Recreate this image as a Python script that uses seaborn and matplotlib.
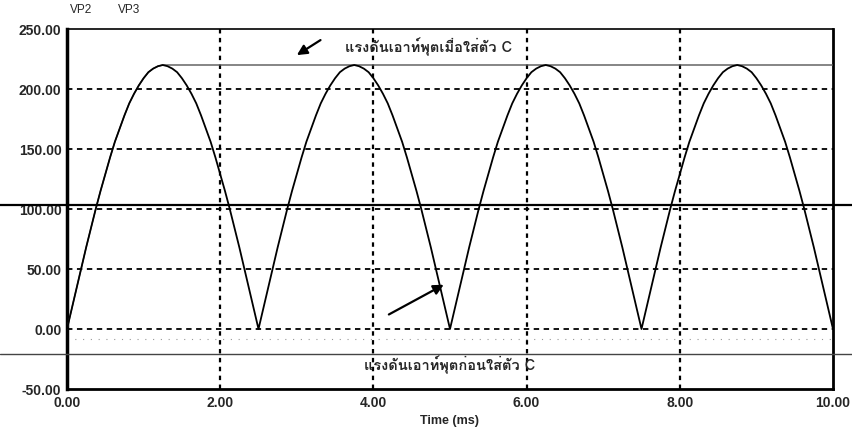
import matplotlib
matplotlib.use("Agg")
import matplotlib.pyplot as plt
from matplotlib import font_manager
from matplotlib.ft2font import FT2Font
import seaborn as sns
import pandas as pd

# ---------------- data ----------------
time_ms = [
    0.0000, 0.0625, 0.1250, 0.1875, 0.2500, 0.3125, 0.3750, 0.4375,
    0.5000, 0.5625, 0.6250, 0.6875, 0.7500, 0.8125, 0.8750, 0.9375,
    1.0000, 1.0625, 1.1250, 1.1875, 1.2500, 1.3125, 1.3750, 1.4375,
    1.5000, 1.5625, 1.6250, 1.6875, 1.7500, 1.8125, 1.8750, 1.9375,
    2.0000, 2.0625, 2.1250, 2.1875, 2.2500, 2.3125, 2.3750, 2.4375,
    2.5000, 2.5625, 2.6250, 2.6875, 2.7500, 2.8125, 2.8750, 2.9375,
    3.0000, 3.0625, 3.1250, 3.1875, 3.2500, 3.3125, 3.3750, 3.4375,
    3.5000, 3.5625, 3.6250, 3.6875, 3.7500, 3.8125, 3.8750, 3.9375,
    4.0000, 4.0625, 4.1250, 4.1875, 4.2500, 4.3125, 4.3750, 4.4375,
    4.5000, 4.5625, 4.6250, 4.6875, 4.7500, 4.8125, 4.8750, 4.9375,
    5.0000, 5.0625, 5.1250, 5.1875, 5.2500, 5.3125, 5.3750, 5.4375,
    5.5000, 5.5625, 5.6250, 5.6875, 5.7500, 5.8125, 5.8750, 5.9375,
    6.0000, 6.0625, 6.1250, 6.1875, 6.2500, 6.3125, 6.3750, 6.4375,
    6.5000, 6.5625, 6.6250, 6.6875, 6.7500, 6.8125, 6.8750, 6.9375,
    7.0000, 7.0625, 7.1250, 7.1875, 7.2500, 7.3125, 7.3750, 7.4375,
    7.5000, 7.5625, 7.6250, 7.6875, 7.7500, 7.8125, 7.8750, 7.9375,
    8.0000, 8.0625, 8.1250, 8.1875, 8.2500, 8.3125, 8.3750, 8.4375,
    8.5000, 8.5625, 8.6250, 8.6875, 8.7500, 8.8125, 8.8750, 8.9375,
    9.0000, 9.0625, 9.1250, 9.1875, 9.2500, 9.3125, 9.3750, 9.4375,
    9.5000, 9.5625, 9.6250, 9.6875, 9.7500, 9.8125, 9.8750, 9.9375,
    10.0000]
vp2 = [
    0, 17, 34, 51, 68, 84, 100, 115,
    129, 143, 156, 167, 178, 188, 196, 203,
    209, 214, 217, 219, 220, 219, 217, 214,
    209, 203, 196, 188, 178, 167, 156, 143,
    129, 115, 100, 84, 68, 51, 34, 17,
    0, 17, 34, 51, 68, 84, 100, 115,
    129, 143, 156, 167, 178, 188, 196, 203,
    209, 214, 217, 219, 220, 219, 217, 214,
    209, 203, 196, 188, 178, 167, 156, 143,
    129, 115, 100, 84, 68, 51, 34, 17,
    0, 17, 34, 51, 68, 84, 100, 115,
    129, 143, 156, 167, 178, 188, 196, 203,
    209, 214, 217, 219, 220, 219, 217, 214,
    209, 203, 196, 188, 178, 167, 156, 143,
    129, 115, 100, 84, 68, 51, 34, 17,
    0, 17, 34, 51, 68, 84, 100, 115,
    129, 143, 156, 167, 178, 188, 196, 203,
    209, 214, 217, 219, 220, 219, 217, 214,
    209, 203, 196, 188, 178, 167, 156, 143,
    129, 115, 100, 84, 68, 51, 34, 17,
    0]
vp3_time = [0.0000, 0.0625, 0.1250, 0.1875, 0.2500, 0.3125, 0.3750, 0.4375,
            0.5000, 0.5625, 0.6250, 0.6875, 0.7500, 0.8125, 0.8750, 0.9375,
            1.0000, 1.0625, 1.1250, 1.1875, 1.2500, 10.0000]
vp3 = [0, 17, 34, 51, 68, 84, 100, 115,
       129, 143, 156, 167, 178, 188, 196, 203,
       209, 214, 217, 219, 220, 220]

x_ticks = [0, 2, 4, 6, 8, 10]
x_tick_labels = ["0.00", "2.00", "4.00", "6.00", "8.00", "10.00"]
y_ticks = [-50, 0, 50, 100, 150, 200, 250]
y_tick_labels = ["-50.00", "0.00", "50.00", "100.00", "150.00", "200.00", "250.00"]
legend_names = ["VP2", "VP3"]
label_after = "แรงดันเอาท์พุตเมื่อใส่ตัว C"
label_before = "แรงดันเอาท์พุตก่อนใส่ตัว C"
x_label = "Time (ms)"

# ---------------- fonts ----------------
sns.set_style("white")

def find_thai_font():
    preferred, others = [], []
    for f in font_manager.fontManager.ttflist:
        try:
            cm = FT2Font(f.fname).get_charmap()
        except Exception:
            continue
        if 0x0E41 in cm and 0x0E14 in cm:
            if "Sans" in f.name or "Loma" in f.name or "Garuda" in f.name:
                preferred.append(f.name)
            else:
                others.append(f.name)
    lst = preferred + others
    return lst[0] if lst else None

thai = find_thai_font()
base = "Liberation Sans"
thai_family = [thai, base, "DejaVu Sans"] if thai else [base, "DejaVu Sans"]
plt.rcParams["font.family"] = [base, "DejaVu Sans"]

# ---------------- figure ----------------
W, H = 852, 439
fig = plt.figure(figsize=(W / 100, H / 100), dpi=100)
L, R, T, B = 67, 833, 30, 390
ax = fig.add_axes([L / W, 1 - B / H, (R - L) / W, (B - T) / H])

df2 = pd.DataFrame({"t": time_ms, "v": vp2})
df3 = pd.DataFrame({"t": vp3_time, "v": vp3})
sns.lineplot(data=df3, x="t", y="v", ax=ax, color="#555555", lw=1.0,
             estimator=None, sort=False, zorder=3)
sns.lineplot(data=df2, x="t", y="v", ax=ax, color="black", lw=1.3,
             estimator=None, sort=False, zorder=4)

ax.set_xlim(0, 10)
ax.set_ylim(-50, 250)
ax.set_xticks(x_ticks)
ax.set_xticklabels(x_tick_labels)
ax.set_yticks(y_ticks)
ax.set_yticklabels(y_tick_labels)
ax.tick_params(length=0, labelsize=10, pad=4)
for lab in ax.get_xticklabels() + ax.get_yticklabels():
    lab.set_fontweight("bold")
ax.set_xlabel(x_label, fontsize=9, fontweight="bold", labelpad=4)
ax.set_ylabel("")

# grid lines
for y in [0, 50, 100, 150, 200]:
    ax.axhline(y, color="black", lw=1.3, ls=(0, (3, 2.5)), zorder=1)
for x in [2, 4, 6, 8]:
    ax.axvline(x, color="black", lw=1.6, ls=(0, (2, 2)), zorder=1)

# spines
for s, w in [("left", 2.5), ("bottom", 2.0), ("right", 2.0), ("top", 1.2)]:
    ax.spines[s].set_visible(True)
    ax.spines[s].set_color("black")
    ax.spines[s].set_linewidth(w)

# scan artifact lines across the page
x0 = -L / (R - L)
x1 = (W - L) / (R - L)
ax.axhline(103.3, xmin=x0, xmax=x1, color="black", lw=1.6, clip_on=False, zorder=5)
ax.axhline(-20.8, xmin=x0, xmax=x1, color="#444444", lw=1.0, clip_on=False, zorder=5)
ax.axhline(-8.5, xmin=0, xmax=1, color="#999999", lw=0.8, ls=(0, (1, 6)), zorder=1)

# legend names
fig.text(70 / W, 1 - 10 / H, legend_names[0], fontsize=8.5, va="center", ha="left")
fig.text(118 / W, 1 - 10 / H, legend_names[1], fontsize=8.5, va="center", ha="left")

# annotations
ax.text(4.72, 236, label_after, family=thai_family, fontsize=10.5,
        ha="center", va="center", fontweight="bold", zorder=6)
ax.text(5.0, -29, label_before, family=thai_family, fontsize=10.5,
        ha="center", va="center", fontweight="bold", zorder=6)
ax.annotate("", xy=(2.97, 227), xytext=(3.34, 242),
            arrowprops=dict(arrowstyle="-|>,head_length=0.6,head_width=0.3",
                            color="black", lw=1.6))
ax.annotate("", xy=(4.95, 38), xytext=(4.17, 11),
            arrowprops=dict(arrowstyle="-|>,head_length=0.6,head_width=0.3",
                            color="black", lw=1.6))

fig.savefig("out.png", dpi=100)
